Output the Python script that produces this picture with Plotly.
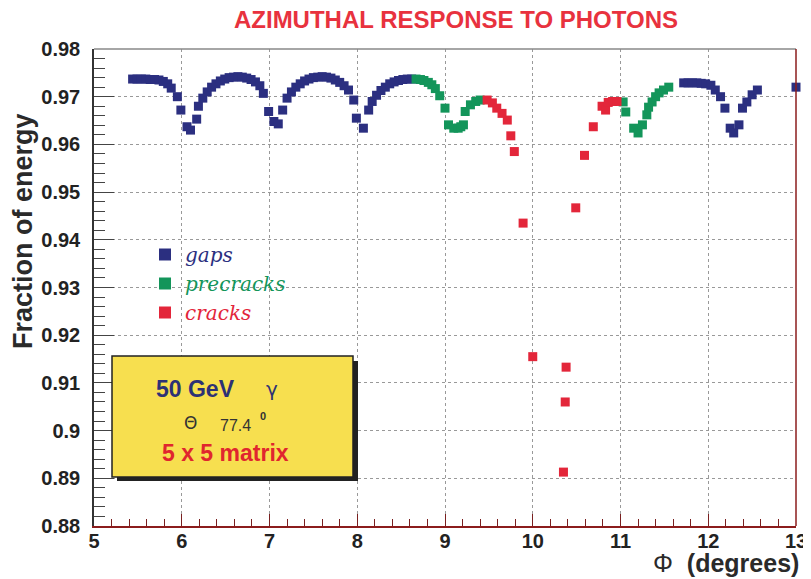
import plotly.graph_objects as go

# ---------------- data ----------------
gaps_x = [5.44, 5.49, 5.54, 5.59, 5.64, 5.69, 5.74, 5.79, 5.84, 5.88, 5.95, 5.99,
          6.06, 6.10, 6.17, 6.19, 6.24, 6.29, 6.34, 6.39, 6.44, 6.49, 6.54, 6.59,
          6.64, 6.69, 6.74, 6.79, 6.84, 6.89, 6.93, 6.99, 7.05, 7.10, 7.15, 7.20,
          7.25, 7.30, 7.35, 7.40, 7.45, 7.50, 7.55, 7.60, 7.65, 7.70, 7.75, 7.80,
          7.85, 7.90, 7.96, 7.99, 8.07, 8.13, 8.17, 8.22, 8.27, 8.32, 8.37, 8.42,
          8.47, 8.52, 8.57, 8.62,
          11.72, 11.77, 11.82, 11.87, 11.92, 11.97, 12.03, 12.08, 12.14, 12.19,
          12.25, 12.29, 12.35, 12.39, 12.44, 12.50, 12.56, 13.00]
gaps_y = [0.9737, 0.9737, 0.9737, 0.9737, 0.9736, 0.9736, 0.9735, 0.9732, 0.9727, 0.9718, 0.9700, 0.9672,
          0.9637, 0.9630, 0.9653, 0.9680, 0.9697, 0.9710, 0.9720, 0.9727, 0.9733, 0.9737, 0.9740, 0.9741,
          0.9742, 0.9741, 0.9739, 0.9736, 0.9731, 0.9723, 0.9707, 0.9669, 0.9648, 0.9643, 0.9672, 0.9697,
          0.9710, 0.9720, 0.9727, 0.9733, 0.9737, 0.9740, 0.9741, 0.9742, 0.9741, 0.9739, 0.9735, 0.9730,
          0.9723, 0.9714, 0.9693, 0.9655, 0.9634, 0.9672, 0.9690, 0.9703, 0.9713, 0.9720, 0.9727, 0.9731,
          0.9734, 0.9736, 0.9737, 0.9737,
          0.9729, 0.9729, 0.9729, 0.9729, 0.9728, 0.9727, 0.9724, 0.9714, 0.9700, 0.9676,
          0.9634, 0.9624, 0.9641, 0.9676, 0.9689, 0.9704, 0.9714, 0.9720]

precracks_x = [8.67, 8.72, 8.76, 8.81, 8.85, 8.89, 8.94, 9.00, 9.04, 9.10, 9.15, 9.18,
               9.21, 9.23, 9.29, 9.35, 9.40,
               11.03, 11.06, 11.15, 11.20, 11.25, 11.30, 11.32, 11.36, 11.40, 11.44, 11.49, 11.55]
precracks_y = [0.9737, 0.9736, 0.9734, 0.9730, 0.9725, 0.9717, 0.9702, 0.9676, 0.9641, 0.9634, 0.9634, 0.9637,
               0.9641, 0.9669, 0.9683, 0.9690, 0.9693,
               0.9689, 0.9668, 0.9634, 0.9624, 0.9641, 0.9662, 0.9678, 0.9689, 0.9700, 0.9708, 0.9714, 0.9720]

cracks_x = [9.48, 9.54, 9.59, 9.65, 9.71, 9.75, 9.79, 9.89, 10.00, 10.35, 10.37, 10.38,
            10.49, 10.59, 10.69, 10.79, 10.83, 10.86, 10.91, 10.96]
cracks_y = [0.9693, 0.9687, 0.9676, 0.9665, 0.9651, 0.9618, 0.9585, 0.9435, 0.9155, 0.8913, 0.9060, 0.9133,
            0.9467, 0.9577, 0.9637, 0.9680, 0.9672, 0.9688, 0.9690, 0.9690]

x_ticks = [5, 6, 7, 8, 9, 10, 11, 12, 13]
y_ticks = [0.88, 0.89, 0.90, 0.91, 0.92, 0.93, 0.94, 0.95, 0.96, 0.97, 0.98]
y_ticklabels = ["0.88", "0.89", "0.9", "0.91", "0.92", "0.93", "0.94", "0.95", "0.96", "0.97", "0.98"]

series_names = ["gaps", "precracks", "cracks"]
# ---------------------------------------

BLUE = "#2b2f80"
GREEN = "#13955a"
RED = "#e3263a"
FONT = "Liberation Sans"

# the page body adds an 8px offset before the figure starts
OFF = 8
W, H = 811, 579
# plot area in page pixels: x 94..796, y 49..526
PL, PR, PT, PB = 94, 796, 49, 526
L, T = PL - OFF, PT - OFF
R, B = W - (PR - OFF), H - (PB - OFF)
PW, PH = PR - PL, PB - PT


def px(xp):
    return (xp - PL) / PW


def py(yp):
    return (PB - yp) / PH


fig = go.Figure()
for name, xs, ys, col in [(series_names[0], gaps_x, gaps_y, BLUE),
                          (series_names[1], precracks_x, precracks_y, GREEN),
                          (series_names[2], cracks_x, cracks_y, RED)]:
    fig.add_trace(go.Scatter(
        x=xs, y=ys, mode="markers", cliponaxis=False,
        marker=dict(symbol="square", size=9, color=col, line=dict(width=0)),
        name=f"<span style='color:{col}'><i>{name}</i></span>",
    ))

fig.update_layout(
    width=W, height=H,
    margin=dict(l=L, r=R, t=T, b=B, autoexpand=False),
    paper_bgcolor="white", plot_bgcolor="white",
    font=dict(family=FONT, color="#222"),
    title=dict(text="AZIMUTHAL RESPONSE TO PHOTONS",
               font=dict(family=FONT, size=24, color="#e8323e", weight="bold"),
               x=px(456), xanchor="center", xref="paper",
               y=1 - (20 - OFF) / H, yanchor="middle", yref="container"),
    showlegend=True,
    legend=dict(x=px(145), y=py(235), xanchor="left", yanchor="top",
                bgcolor="rgba(0,0,0,0)", borderwidth=0,
                font=dict(family="DejaVu Serif", size=20, style="italic"),
                tracegroupgap=0, itemwidth=30, itemsizing="constant"),
    xaxis=dict(range=[5, 13], tickvals=x_ticks, ticks="inside", ticklen=12,
               tickcolor="#7a1f1f", tickwidth=1, automargin=False,
               showline=True, linecolor="#8b1c1c", linewidth=1.5,
               showgrid=True, gridcolor="#999", griddash="dot", gridwidth=1,
               zeroline=False, ticklabeloverflow="allow",
               minor=dict(dtick=0.2, tick0=5, ticks="inside", ticklen=7,
                          tickcolor="#7a1f1f", showgrid=False),
               tickfont=dict(family=FONT, size=20, color="#222", weight="bold"),
               ticklabelstandoff=-4),
    yaxis=dict(range=[0.88, 0.98], tickvals=y_ticks, ticktext=y_ticklabels,
               ticks="inside", ticklen=20, tickcolor="#444", tickwidth=1,
               automargin=False,
               showline=True, linecolor="#333", linewidth=1.5,
               showgrid=True, gridcolor="#999", griddash="dot", gridwidth=1,
               zeroline=False,
               minor=dict(dtick=0.002, tick0=0.88, ticks="inside", ticklen=11,
                          tickcolor="#444", showgrid=False),
               tickfont=dict(family=FONT, size=20, color="#222", weight="bold"),
               ticklabelstandoff=8),
)

# frame: top (grey) and right (dark red)
fig.add_shape(type="line", xref="paper", yref="paper", x0=0, x1=1, y0=1, y1=1,
              line=dict(color="#888", width=1.5))
fig.add_shape(type="line", xref="paper", yref="paper", x0=1, x1=1, y0=0, y1=1,
              line=dict(color="#8b1c1c", width=1.5))

# info box with shadow
fig.add_shape(type="rect", xref="paper", yref="paper",
              x0=px(117), x1=px(358), y0=py(481), y1=py(361),
              fillcolor="#222", line=dict(width=0), layer="above")
fig.add_shape(type="rect", xref="paper", yref="paper",
              x0=px(112), x1=px(353), y0=py(477), y1=py(356),
              fillcolor="#f7df4f", line=dict(color="#222", width=1.5), layer="above")


def label(xp, yp, text, size, color, family=FONT, xanchor="center", angle=0):
    fig.add_annotation(xref="paper", yref="paper", x=px(xp), y=py(yp),
                       xanchor=xanchor, yanchor="middle", textangle=angle,
                       text=text, showarrow=False,
                       font=dict(family=family, size=size, color=color))


label(195, 389, "<b>50 GeV</b>", 23, "#2d3175")
label(272, 389, "γ", 20, "#2d3175", family="DejaVu Sans")
label(190, 423, "Θ", 17, "#333", family="DejaVu Sans")
label(235, 425, "77.4", 16, "#333")
label(263, 416, "<b>0</b>", 11, "#333")
label(225, 453, "<b>5 x 5 matrix</b>", 23, "#e0262e")

# axis titles
label(23, 231, "<b>Fraction of energy</b>", 27, "#2a2a2a", angle=-90)
label(801, 563, "Φ  <b>(degrees)</b>", 25, "#2a2a2a", xanchor="right")

fig.write_html("out.html")
